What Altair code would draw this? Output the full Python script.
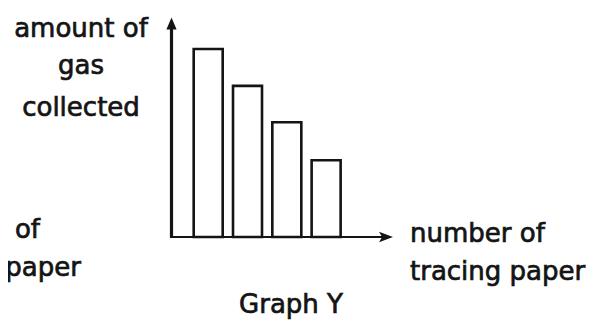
import altair as alt
import pandas as pd

# ---- data ----
bar_index = [1, 2, 3, 4]                 # tracing-paper bars, left to right
gas_amount = [5.0, 4.02, 3.05, 2.04]     # relative bar heights
y_title_lines = ["amount of", "gas", "collected"]
x_title_lines = ["number of", "tracing paper"]
caption_text = ["Graph Y"]

# ---- layout (pixels) ----
W, H = 583, 315
x0_px, step_px = 158.6, 40.0      # pixel of index 0, pixels per bar step
base_px, unit_px = 229.0, 37.6    # baseline pixel, pixels per unit height
x_domain = [(0 - x0_px) / step_px, (W - x0_px) / step_px]
y_domain = [-(H - base_px) / unit_px, base_px / unit_px]

xs = alt.Scale(domain=x_domain, nice=False, zero=False)
ys = alt.Scale(domain=y_domain, nice=False, zero=False)

INK = "#141414"
FONT = "DejaVu Sans"
FS = 26

bars_df = pd.DataFrame({"n": bar_index, "gas": gas_amount})
bars = alt.Chart(bars_df).mark_bar(
    size=29, fill="white", stroke=INK, strokeWidth=2.6
).encode(
    x=alt.X("n:Q", scale=xs, axis=None),
    y=alt.Y("gas:Q", scale=ys, axis=None),
    y2=alt.datum(0),
)

one = pd.DataFrame({"k": [0]})

y_axis = alt.Chart(one).mark_rule(color=INK, strokeWidth=3.2).encode(
    x=alt.value(163.5), y=alt.value(base_px + 1), y2=alt.value(18)
)
x_axis = alt.Chart(one).mark_rule(color=INK, strokeWidth=2).encode(
    x=alt.value(162), x2=alt.value(376), y=alt.value(base_px)
)
y_arrow = alt.Chart(one).mark_point(
    shape="M0,-1L0.85,1L-0.85,1Z", size=144, filled=True, color=INK, opacity=1
).encode(x=alt.value(163.5), y=alt.value(15.5))
x_arrow = alt.Chart(one).mark_point(
    shape="M1,0L-1,-0.75L-0.55,0L-1,0.75Z", size=196, filled=True, color=INK, opacity=1
).encode(x=alt.value(378), y=alt.value(base_px))


def label(s, x, y, align):
    return alt.Chart(pd.DataFrame({"t": [s]})).mark_text(
        font=FONT, fontSize=FS, align=align, baseline="alphabetic",
        color=INK, stroke=INK, strokeWidth=0.7
    ).encode(text="t:N", x=alt.value(x), y=alt.value(y))


texts = [
    label(y_title_lines[0], 73, 28.5, "center"),
    label(y_title_lines[1], 73, 65.5, "center"),
    label(y_title_lines[2], 73, 108, "center"),
    label(x_title_lines[0], 402, 234, "left"),
    label(x_title_lines[1], 402, 272, "left"),
    # cut-off labels of the neighbouring graph at the left edge
    label(x_title_lines[0], 32, 230, "right"),
    label(x_title_lines[1], 73, 268, "right"),
    label(caption_text[0], 283, 305, "center"),
]

chart = alt.layer(bars, x_axis, y_axis, y_arrow, x_arrow, *texts).properties(
    width=W, height=H, padding=0,
    autosize=alt.AutoSizeParams(type="none"),
).configure_view(strokeWidth=0)

chart.save("out.html", embed_options={"renderer": "svg", "actions": False})
